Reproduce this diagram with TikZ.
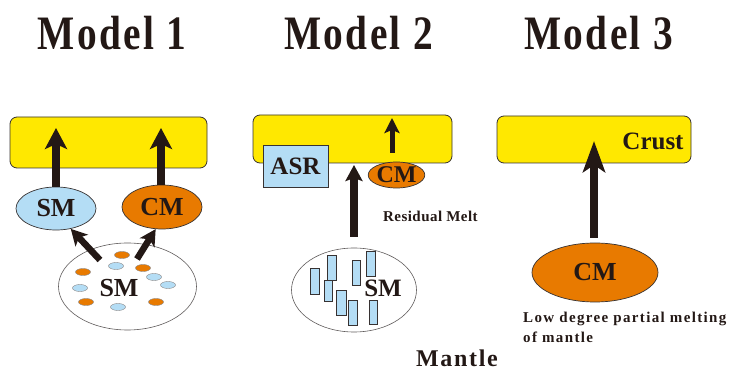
\documentclass[tikz,border=0pt]{standalone}
\usepackage{fontspec}
\setmainfont{Liberation Serif}
\usetikzlibrary{arrows.meta,shapes.geometric}
\definecolor{crustY}{RGB}{255,232,0}
\definecolor{smB}{RGB}{180,221,245}
\definecolor{cmO}{RGB}{232,122,0}
\definecolor{ink}{RGB}{35,24,21}
\definecolor{edge}{RGB}{55,50,50}
\begin{document}
\begin{tikzpicture}[x=1pt,y=-1pt,
  crustbox/.style={rectangle,draw=edge,line width=0.8pt,fill=crustY,rounded corners=7pt,inner sep=0pt},
  ellbase/.style={ellipse,draw=edge,line width=0.7pt,inner sep=0pt,text=ink},
  blueell/.style={ellbase,fill=smB},
  orangeell/.style={ellbase,fill=cmO},
  whiteell/.style={ellbase,fill=white,line width=0.6pt,draw=edge!80},
  lbl/.style={text=ink,inner sep=0pt,font=\bfseries\fontsize{#1}{#1}\selectfont},
  title/.style={text=ink,inner sep=0pt,anchor=base,font=\bfseries\fontsize{48}{48}\selectfont\addfontfeature{LetterSpace=6}},
  uparrow/.style={draw=ink,line width=8pt,-{Stealth[length=21pt,width=22pt,inset=5pt]}},
  diagarrow/.style={draw=ink,line width=6.5pt,-{Stealth[length=16pt,width=17pt,inset=4pt]}},
  smallarrow/.style={draw=ink,line width=5pt,-{Stealth[length=15pt,width=15pt,inset=3pt]}},
  longarrow/.style={draw=ink,line width=8pt,-{Stealth[length=31pt,width=22pt,inset=7pt]}},
  dotO/.style={fill=cmO,draw=edge!60,line width=0.4pt},
  dotB/.style={fill=smB,draw=edge!60,line width=0.4pt},
  bar/.style={fill=smB,draw=edge,line width=0.5pt}
]
\useasboundingbox (0,0) rectangle (737,371);

% ---------- titles ----------
\node[title] (t1) at (112,50) {\scalebox{0.82}[1]{Model 1}};
\node[title] (t2) at (358.5,50) {\scalebox{0.82}[1]{Model 2}};
\node[title] (t3) at (598.5,50) {\scalebox{0.82}[1]{Model 3}};

% ---------- Model 1 ----------
\node[crustbox,minimum width=197pt,minimum height=51pt] (box1) at (108.5,142.5) {};
\node[blueell,minimum width=80pt,minimum height=43pt,lbl=26] (sm1) at (56,208.5) {SM};
\node[orangeell,minimum width=80pt,minimum height=44pt,lbl=26] (cm1) at (162,207) {CM};
\node[whiteell,minimum width=138pt,minimum height=87pt] (big1) at (127.5,286.5) {};
\foreach \x/\y in {122/255,83/272,143/268,86/302,156/302}
  \path[dotO] (\x,\y) ellipse [x radius=7.5,y radius=3.5];
\foreach \x/\y in {116/266,154/277,80/288,168/285,118/307}
  \path[dotB] (\x,\y) ellipse [x radius=7.5,y radius=3.5];
\node[lbl=26] (smtxt1) at (119,288) {SM};
\coordinate (tipA) at (56,128);
\coordinate (tipB) at (161,128);
\draw[uparrow] (sm1.north) -- (tipA);
\draw[uparrow] (cm1.north -| tipB) -- (tipB);
\coordinate (tailA) at (100,260);
\coordinate (tailB) at (137,259);
\draw[diagarrow] (tailA) -- (sm1.306);
\draw[diagarrow] (tailB) -- (cm1.254);

% ---------- Model 2 ----------
\node[crustbox,minimum width=199pt,minimum height=48pt] (box2) at (352.5,139) {};
\node[rectangle,draw=edge,line width=0.7pt,fill=smB,minimum width=65pt,minimum height=42pt,lbl=25] (asr) at (295.5,166) {ASR};
\node[orangeell,minimum width=53pt,minimum height=26pt,lbl=24] (cm2) at (396.5,175) {CM};
\node[whiteell,minimum width=125pt,minimum height=84pt] (big2) at (354,290) {};
\foreach \xa/\ya/\xb/\yb in {310.7/268.3/319.3/294, 327.3/255/336.7/280, 324/280/332.7/301.7, 336.7/290/346/315, 348.3/300/357.3/325, 352.7/260.7/360.7/285, 366/251.7/375/276.7, 369/300/377.3/324}
  \path[bar] (\xa,\ya) rectangle (\xb,\yb);
\node[lbl=25] (smtxt2) at (383,288) {SM};
\coordinate (tipC) at (354,165);
\coordinate (tipD) at (392,118);
\draw[uparrow,-{Stealth[length=16pt,width=17pt,inset=3pt]}] (big2.north) [shorten <=11pt] -- (tipC);
\draw[smallarrow,shorten <=9pt] (cm2.north -| tipD) -- (tipD);
\node[text=ink,inner sep=0pt,anchor=base west,font=\bfseries\fontsize{15}{15}\selectfont\addfontfeature{LetterSpace=3}] (resid) at (383,222) {Residual Melt};

% ---------- Model 3 ----------
\node[crustbox,minimum width=194pt,minimum height=47pt] (box3) at (594,139.5) {};
\node[lbl=25] (crust) at (653,141) {Crust};
\node[orangeell,minimum width=126pt,minimum height=59pt,lbl=26] (cm3) at (595,272.5) {CM};
\coordinate (tipE) at (594,141);
\draw[longarrow,shorten <=5pt] (cm3.north -| tipE) -- (tipE);
\node[text=ink,inner sep=0pt,anchor=north west,align=left,font=\bfseries\fontsize{15}{19.7}\selectfont\addfontfeature{LetterSpace=9}] (lowdeg) at (523,311.8) {Low degree partial melting\\of mantle};

% ---------- Mantle ----------
\node[text=ink,inner sep=0pt,anchor=base,font=\bfseries\fontsize{24}{24}\selectfont\addfontfeature{LetterSpace=7}] (mantle) at (457,366.5) {Mantle};
\end{tikzpicture}
\end{document}
